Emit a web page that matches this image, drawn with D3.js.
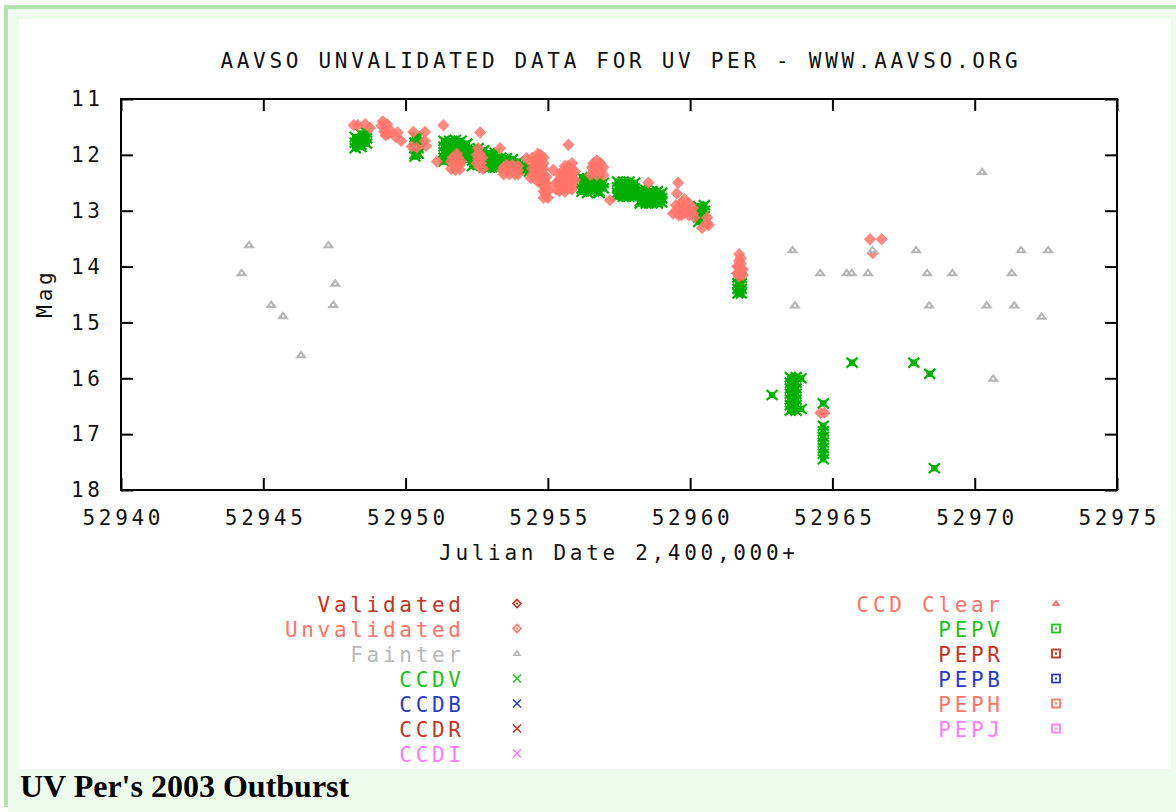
<!DOCTYPE html>
<html>
<head>
<meta charset="utf-8">
<script src="https://cdn.jsdelivr.net/npm/d3@7"></script>
<style>
  html, body { margin: 0; padding: 0; background: #fff; }
  svg { display: block; }
</style>
</head>
<body>
<script>
// ---------------- DATA ----------------
const titleText = "AAVSO UNVALIDATED DATA FOR UV PER - WWW.AAVSO.ORG";
const xLabel = "Julian Date 2,400,000+";
const yLabel = "Mag";
const caption = "UV Per's 2003 Outburst";
const xTicks = [52940, 52945, 52950, 52955, 52960, 52965, 52970, 52975];
const yTicks = [11, 12, 13, 14, 15, 16, 17, 18];

// Fainter-than estimates [JD, mag]
const fainter = [
  [52944.24,14.11],[52944.50,13.61],[52945.28,14.68],[52945.69,14.88],[52946.33,15.58],
  [52947.29,13.61],[52947.53,14.30],[52947.46,14.68],
  [52963.60,13.70],[52963.68,14.69],[52964.57,14.11],[52965.50,14.11],[52965.68,14.11],
  [52966.25,14.11],[52966.41,13.70],[52967.94,13.70],[52968.33,14.11],[52968.40,14.69],
  [52969.21,14.11],[52970.26,12.30],[52970.42,14.69],[52970.65,16.00],[52971.30,14.11],
  [52971.39,14.69],[52971.63,13.70],[52972.35,14.89],[52972.58,13.70]
];

// CCDV observations [JD, mag]
const ccdv = [
  [52948.23,11.68],[52948.23,11.78],[52948.23,11.88],
  [52948.43,11.62],[52948.43,11.72],[52948.43,11.82],[52948.43,11.86],
  [52948.63,11.60],[52948.63,11.70],[52948.63,11.80],
  [52950.33,11.68],[52950.33,11.78],[52950.33,11.88],[52950.33,11.98],[52950.33,12.03],
  [52950.45,11.68],[52950.45,11.78],[52950.45,11.88],[52950.45,11.98],
  [52951.35,11.75],[52951.35,11.85],[52951.35,11.95],[52951.35,12.05],[52951.35,12.12],
  [52951.55,11.75],[52951.55,11.85],[52951.55,11.95],[52951.55,12.05],
  [52951.75,11.73],[52951.75,11.83],[52951.75,11.93],[52951.75,12.03],
  [52951.95,11.75],[52951.95,11.85],[52951.95,11.95],[52951.95,12.05],
  [52952.15,11.80],[52952.15,11.90],[52952.15,12.00],[52952.15,12.08],
  [52952.35,11.90],[52952.35,12.00],[52952.35,12.10],[52952.35,12.20],
  [52952.55,11.88],[52952.55,11.98],[52952.55,12.08],[52952.55,12.18],
  [52952.75,11.92],[52952.75,12.02],[52952.75,12.12],[52952.75,12.22],
  [52952.95,11.97],[52952.95,12.07],[52952.95,12.17],[52952.95,12.23],
  [52953.15,11.97],[52953.15,12.07],[52953.15,12.17],[52953.15,12.23],
  [52953.35,12.05],[52953.35,12.15],[52953.35,12.22],
  [52953.55,12.06],[52953.55,12.16],[52953.55,12.22],
  [52953.75,12.08],[52953.75,12.18],[52953.75,12.22],
  [52953.95,12.12],[52953.95,12.20],
  [52954.15,12.20],[52954.15,12.28],
  [52954.35,12.22],[52954.35,12.30],
  [52956.20,12.40],[52956.20,12.50],[52956.20,12.60],[52956.20,12.66],
  [52956.40,12.42],[52956.40,12.52],[52956.40,12.62],[52956.40,12.68],
  [52956.60,12.45],[52956.60,12.55],[52956.60,12.65],
  [52956.80,12.45],[52956.80,12.55],[52956.80,12.65],[52956.80,12.68],
  [52956.95,12.50],[52956.95,12.60],
  [52957.45,12.48],[52957.45,12.58],[52957.45,12.68],[52957.45,12.75],
  [52957.65,12.48],[52957.65,12.58],[52957.65,12.68],[52957.65,12.75],
  [52957.85,12.48],[52957.85,12.58],[52957.85,12.68],[52957.85,12.75],
  [52958.05,12.50],[52958.05,12.60],[52958.05,12.70],[52958.05,12.75],
  [52958.25,12.63],[52958.25,12.73],[52958.25,12.83],[52958.25,12.87],
  [52958.45,12.63],[52958.45,12.73],[52958.45,12.83],[52958.45,12.87],
  [52958.65,12.65],[52958.65,12.75],[52958.65,12.85],[52958.65,12.87],
  [52958.85,12.65],[52958.85,12.75],[52958.85,12.85],[52958.85,12.87],
  [52959.00,12.68],[52959.00,12.78],[52959.00,12.85],
  [52960.30,12.92],[52960.30,13.02],[52960.30,13.12],[52960.30,13.20],
  [52960.50,12.90],[52960.50,13.00],[52960.50,13.10],
  [52961.68,14.20],[52961.68,14.30],[52961.68,14.40],[52961.68,14.48],
  [52961.80,14.20],[52961.80,14.30],[52961.80,14.40],[52961.80,14.48],
  [52962.88,16.30],
  [52963.52,15.98],[52963.52,16.08],[52963.52,16.18],[52963.52,16.28],[52963.52,16.38],[52963.52,16.48],[52963.52,16.58],
  [52963.72,15.98],[52963.72,16.08],[52963.72,16.18],[52963.72,16.28],[52963.72,16.38],[52963.72,16.48],[52963.72,16.58],
  [52963.90,16.00],[52963.90,16.55],
  [52964.68,16.45],[52964.68,16.85],[52964.68,16.95],[52964.68,17.05],[52964.68,17.15],
  [52964.68,17.25],[52964.68,17.35],[52964.68,17.45],
  [52965.69,15.72],[52967.86,15.72],[52968.42,15.92],[52968.58,17.61]
];

// Unvalidated visual observations [JD, mag]
const unvalidated = [
  [52948.18,11.47],[52948.32,11.47],[52948.58,11.45],[52948.75,11.52],
  [52949.15,11.48],[52949.35,11.45],[52949.25,11.58],[52949.45,11.55],[52949.30,11.65],
  [52949.20,11.40],[52949.40,11.62],
  [52949.65,11.68],[52949.85,11.75],[52949.72,11.60],
  [52950.27,11.59],[52950.68,11.59],[52950.68,11.75],[52950.72,11.84],[52950.22,11.85],[52950.40,11.87],
  [52951.33,11.47],[52951.10,12.12],
  [52951.65,12.05],[52951.85,12.05],[52951.70,12.18],[52951.90,12.18],[52951.75,12.27],
  [52951.60,12.12],[52951.80,12.12],[52951.95,12.12],[52951.60,12.25],[52951.90,12.26],[52951.80,11.98],
  [52952.62,11.60],
  [52952.55,11.88],[52952.60,11.98],[52952.55,12.08],[52952.65,12.15],[52952.60,12.22],
  [52952.50,12.00],[52952.70,12.05],[52952.50,12.15],[52952.72,12.25],
  [52953.32,11.88],
  [52953.45,12.22],[52953.65,12.22],[52953.85,12.22],[52953.45,12.35],[52953.65,12.35],[52953.85,12.35],[52953.95,12.28],
  [52953.55,12.28],[52953.75,12.28],[52953.40,12.28],[52953.55,12.18],[52953.75,12.18],[52953.95,12.35],[52953.95,12.20],
  [52954.25,12.06],
  [52954.45,12.05],[52954.45,12.15],[52954.45,12.25],[52954.45,12.35],
  [52954.65,11.98],[52954.65,12.08],[52954.65,12.18],[52954.65,12.28],[52954.65,12.38],[52954.65,12.48],
  [52954.85,12.05],[52954.85,12.15],[52954.85,12.25],[52954.85,12.35],[52954.85,12.45],[52954.85,12.55],[52954.85,12.65],[52954.85,12.77],
  [52955.00,12.55],[52955.00,12.65],[52955.00,12.77],
  [52954.55,12.10],[52954.55,12.20],[52954.55,12.30],[52954.75,12.00],[52954.75,12.10],[52954.75,12.20],
  [52954.75,12.30],[52954.75,12.40],[52954.75,12.50],[52954.92,12.50],[52954.92,12.60],[52954.92,12.70],
  [52954.40,12.42],[52954.95,12.40],
  [52955.19,12.27],[52955.72,11.82],
  [52955.40,12.35],[52955.40,12.45],[52955.40,12.55],[52955.40,12.65],
  [52955.60,12.20],[52955.60,12.30],[52955.60,12.40],[52955.60,12.50],[52955.60,12.60],[52955.60,12.66],
  [52955.85,12.15],[52955.85,12.25],[52955.85,12.35],[52955.85,12.45],[52955.85,12.55],[52955.85,12.62],
  [52955.50,12.30],[52955.50,12.40],[52955.50,12.50],[52955.50,12.60],[52955.72,12.20],[52955.72,12.30],
  [52955.72,12.40],[52955.72,12.50],[52955.72,12.60],[52955.95,12.30],[52955.95,12.45],[52955.30,12.50],[52955.30,12.62],
  [52956.60,12.15],[52956.85,12.15],[52956.60,12.30],[52956.85,12.30],[52956.72,12.36],
  [52956.72,12.10],[52956.72,12.22],[52956.55,12.22],[52956.95,12.22],[52956.50,12.36],[52956.95,12.36],
  [52957.18,12.81],[52958.53,12.50],[52959.58,12.50],[52959.53,12.69],
  [52959.50,12.90],[52959.50,13.02],[52959.70,12.85],[52959.70,12.97],[52959.70,13.08],
  [52959.95,12.86],[52959.95,12.98],[52959.95,13.08],[52960.10,12.95],[52960.10,13.05],
  [52959.60,12.95],[52959.85,12.92],[52959.85,13.03],[52959.60,13.08],[52960.15,13.12],[52959.40,13.05],[52959.80,12.80],
  [52960.60,13.12],[52960.60,13.22],[52960.65,13.26],[52960.42,13.31],
  [52961.72,13.78],[52961.72,13.90],[52961.72,14.00],[52961.72,14.10],[52961.72,14.18],
  [52961.85,14.05],[52961.85,14.15],
  [52961.78,13.85],[52961.78,13.95],[52961.78,14.05],[52961.65,14.00],[52961.65,14.12],
  [52964.58,16.62],[52964.72,16.62],
  [52966.32,13.51],[52966.73,13.51],[52966.42,13.76]
];

// Legend entries
const legendLeftLabels = ["Validated", "Unvalidated", "Fainter", "CCDV", "CCDB", "CCDR", "CCDI"];
const legendLeftShapes = ["diamond", "diamond", "triangle", "x", "x", "x", "x"];
const legendRightLabels = ["CCD Clear", "PEPV", "PEPR", "PEPB", "PEPH", "PEPJ"];
const legendRightShapes = ["triangle", "square", "square", "square", "square", "square"];

// ---------------- STYLE ----------------
const C = {
  validated: "#c4341f", unval: "#ff746a", fainter: "#b6b6b6",
  green: "#00b000", greenText: "#1fbf1f", blue: "#2a3cc4", red: "#c4341f", pink: "#ff7cff"
};
const legendLeftColors = [C.validated, C.unval, "#b8b8b8", C.greenText, C.blue, C.red, C.pink];
const legendRightColors = [C.unval, C.greenText, C.red, C.blue, C.unval, C.pink];

const W = 1176, H = 812;
const FONT = "'DejaVu Sans Mono', 'Liberation Mono', monospace";
const FS = 21, LS = 3.7;

const svg = d3.select("body").append("svg").attr("width", W).attr("height", H);

// page frame
svg.append("rect").attr("x", 0).attr("y", 0).attr("width", W).attr("height", H).attr("fill", "#fff");
svg.append("rect").attr("x", 8).attr("y", 9).attr("width", W - 8).attr("height", H - 9).attr("fill", "#eefcee");
svg.append("rect").attr("x", 4).attr("y", 5).attr("width", W - 4).attr("height", 4).attr("fill", "#b5e3af");
svg.append("rect").attr("x", 4).attr("y", 5).attr("width", 4).attr("height", 802).attr("fill", "#b5e3af");
svg.append("rect").attr("x", 19).attr("y", 19).attr("width", 1152).attr("height", 750).attr("fill", "#fff");

// scales
const x = d3.scaleLinear().domain([52940, 52975]).range([121, 1117]);
const y = d3.scaleLinear().domain([11, 18]).range([99, 490]);

function styleText(sel) {
  sel.attr("font-family", FONT).attr("font-size", FS).style("letter-spacing", LS + "px");
}

// title
svg.append("text").attr("x", 619 + LS / 2).attr("y", 68).attr("text-anchor", "middle")
  .attr("fill", "#111").text(titleText).call(styleText);

// axes
const gB = svg.append("g").attr("transform", `translate(0,${y.range()[1]})`)
  .call(d3.axisBottom(x).tickValues(xTicks).tickSizeInner(-12).tickSizeOuter(0).tickPadding(20).tickFormat(d3.format("d")));
const gT = svg.append("g").attr("transform", `translate(0,${y.range()[0]})`)
  .call(d3.axisTop(x).tickValues(xTicks).tickSizeInner(-12).tickSizeOuter(0).tickFormat(""));
const gL = svg.append("g").attr("transform", `translate(${x.range()[0]},0)`)
  .call(d3.axisLeft(y).tickValues(yTicks).tickSizeInner(-12).tickSizeOuter(0).tickPadding(21).tickFormat(d3.format("d")));
const gR = svg.append("g").attr("transform", `translate(${x.range()[1]},0)`)
  .call(d3.axisRight(y).tickValues(yTicks).tickSizeInner(-12).tickSizeOuter(0).tickFormat(""));
[gB, gT, gL, gR].forEach(g => {
  g.select(".domain").remove();
  g.selectAll(".tick line").attr("stroke", "#000").attr("stroke-width", 2);
  g.selectAll(".tick text").attr("fill", "#111").call(styleText);
});
gB.selectAll(".tick text").attr("dx", LS / 2);
gL.selectAll(".tick text").attr("dx", LS);
svg.append("rect").attr("x", 121).attr("y", 99).attr("width", 996).attr("height", 391)
  .attr("fill", "none").attr("stroke", "#000").attr("stroke-width", 2);

// axis labels
svg.append("text").attr("x", 617 + LS / 2).attr("y", 560).attr("text-anchor", "middle")
  .attr("fill", "#111").text(xLabel).call(styleText);
svg.append("text").attr("transform", "translate(52,295) rotate(-90)").attr("dx", LS / 2)
  .attr("text-anchor", "middle").attr("fill", "#111").text(yLabel).call(styleText);

// plot marks
const plot = svg.append("g");
// CCDV
const gg = plot.append("g").selectAll("g").data(ccdv).join("g")
  .attr("transform", d => `translate(${x(d[0])},${y(d[1])})`);
gg.append("rect").attr("x", -3.2).attr("y", -3.2).attr("width", 6.4).attr("height", 6.4).attr("fill", C.green);
gg.append("path").attr("d", "M-5.5,-5L5.5,5M-5.5,5L5.5,-5").attr("stroke", C.green).attr("stroke-width", 2.2).attr("fill", "none");
// Unvalidated
plot.append("g").selectAll("path").data(unvalidated).join("path")
  .attr("transform", d => `translate(${x(d[0])},${y(d[1])})`)
  .attr("d", "M0,-6.2L6.2,0L0,6.2L-6.2,0Z")
  .attr("fill", C.unval).attr("fill-opacity", 0.85);
// Fainter
const gf = plot.append("g").selectAll("g").data(fainter).join("g")
  .attr("transform", d => `translate(${x(d[0])},${y(d[1])})`);
gf.append("path").attr("d", "M0,-4.5L6,3.5L-6,3.5Z").attr("fill", C.fainter);
gf.append("rect").attr("x", -1).attr("y", -0.5).attr("width", 2).attr("height", 2).attr("fill", "#fff");

// legend
function legendSymbol(g, shape, color) {
  if (shape === "diamond") {
    g.append("path").attr("d", "M0,-4L4,0L0,4L-4,0Z").attr("fill", "none").attr("stroke", color).attr("stroke-width", 1.6);
    g.append("rect").attr("x", -1).attr("y", -1).attr("width", 2).attr("height", 2).attr("fill", color);
  } else if (shape === "triangle") {
    g.append("path").attr("d", "M0,-4L4.5,2.5L-4.5,2.5Z").attr("fill", color);
    g.append("rect").attr("x", -0.8).attr("y", -0.5).attr("width", 1.6).attr("height", 1.6).attr("fill", "#fff");
  } else if (shape === "x") {
    g.append("path").attr("d", "M-4,-4L4,4M-4,4L4,-4").attr("stroke", color).attr("stroke-width", 1.5).attr("fill", "none");
  } else if (shape === "square") {
    g.append("rect").attr("x", -4).attr("y", -4).attr("width", 8).attr("height", 8).attr("fill", "none").attr("stroke", color).attr("stroke-width", 1.8);
    g.append("rect").attr("x", -1).attr("y", -1).attr("width", 2).attr("height", 2).attr("fill", color);
  }
}
function legendColumn(labels, shapes, colors, textX, symX) {
  const rows = svg.append("g").selectAll("g").data(labels).join("g")
    .attr("transform", (d, i) => `translate(0,${612 + 25 * i})`);
  rows.append("text").attr("x", textX + LS).attr("y", 0).attr("text-anchor", "end")
    .attr("fill", (d, i) => colors[i]).text(d => d).call(styleText);
  rows.each(function(d, i) {
    const g = d3.select(this).append("g").attr("transform", `translate(${symX},-8.5)`);
    legendSymbol(g, shapes[i], colors[i]);
  });
}
legendColumn(legendLeftLabels, legendLeftShapes, legendLeftColors, 461, 517);
legendColumn(legendRightLabels, legendRightShapes, legendRightColors, 1000, 1056);

// caption
svg.append("text").attr("x", 20).attr("y", 797)
  .attr("font-family", "'Liberation Serif', 'Times New Roman', serif").attr("font-weight", "bold")
  .attr("font-size", 32).attr("fill", "#000").text(caption);
</script>
</body>
</html>
